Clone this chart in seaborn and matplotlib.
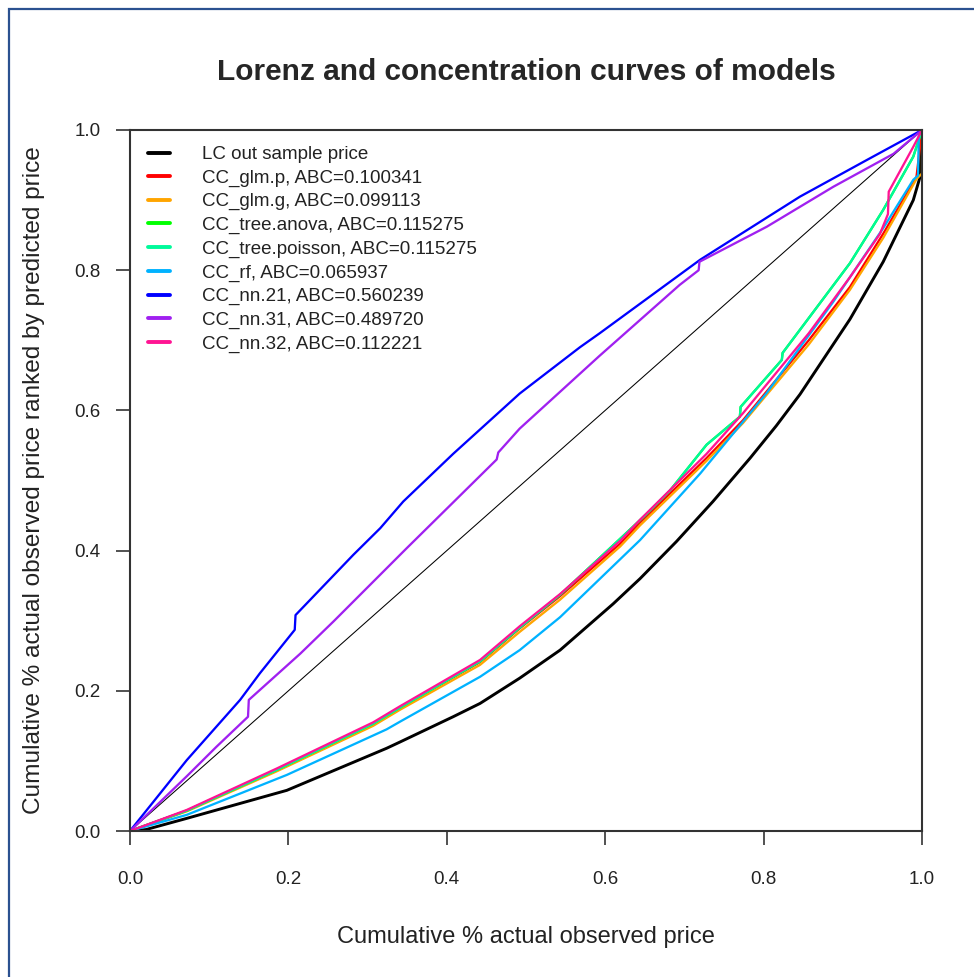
import numpy as np
import pandas as pd
import matplotlib
matplotlib.use('Agg')
import matplotlib.pyplot as plt
import seaborn as sns
from matplotlib.lines import Line2D
from matplotlib.patches import Rectangle

sns.set_theme(style='white')
plt.rcParams['font.family'] = ['Liberation Sans', 'DejaVu Sans']

# Lorenz curve of the out-of-sample price
lc_x = [0, 0.02, 0.0716, 0.198, 0.324, 0.341, 0.408, 0.442, 0.492, 0.543, 0.610, 0.644,
        0.690, 0.736, 0.783, 0.816, 0.846, 0.909, 0.951, 0.989, 0.997, 1.0]
lc_y = [0, 0.002, 0.018, 0.058, 0.118, 0.127, 0.163, 0.182, 0.218, 0.258, 0.324, 0.360,
        0.413, 0.470, 0.532, 0.578, 0.623, 0.730, 0.812, 0.900, 0.931, 1.0]

# concentration curves
glm_p_x = [0, 0.0716, 0.185, 0.307, 0.341, 0.442, 0.492, 0.543, 0.619, 0.644, 0.728,
           0.774, 0.857, 0.909, 0.951, 0.993, 1.0]
glm_p_y = [0, 0.029, 0.087, 0.153, 0.176, 0.241, 0.289, 0.335, 0.410, 0.440, 0.532,
           0.586, 0.700, 0.776, 0.852, 0.933, 1.0]

glm_g_x = [0, 0.0716, 0.185, 0.307, 0.341, 0.442, 0.492, 0.543, 0.619, 0.644, 0.728,
           0.774, 0.857, 0.909, 0.951, 0.993, 1.0, 1.0, 1.0]
glm_g_y = [0, 0.028, 0.085, 0.150, 0.173, 0.237, 0.284, 0.330, 0.406, 0.436, 0.528,
           0.582, 0.694, 0.772, 0.846, 0.930, 0.938, 0.976, 1.0]

tree_anova_x = [0, 0.0716, 0.185, 0.307, 0.341, 0.442, 0.492, 0.543, 0.619, 0.652, 0.682,
                0.728, 0.770, 0.771, 0.823, 0.824, 0.909, 0.951, 0.989, 1.0]
tree_anova_y = [0, 0.029, 0.087, 0.153, 0.176, 0.242, 0.290, 0.337, 0.417, 0.452, 0.486,
                0.551, 0.591, 0.605, 0.672, 0.682, 0.810, 0.886, 0.962, 1.0]

tree_poisson_x = [0, 0.0716, 0.185, 0.307, 0.341, 0.442, 0.492, 0.543, 0.619, 0.652, 0.682,
                  0.728, 0.770, 0.771, 0.823, 0.824, 0.909, 0.951, 0.989, 1.0]
tree_poisson_y = [0, 0.029, 0.087, 0.153, 0.176, 0.242, 0.290, 0.337, 0.417, 0.452, 0.486,
                  0.551, 0.591, 0.605, 0.672, 0.682, 0.810, 0.886, 0.962, 1.0]

rf_x = [0, 0.0716, 0.198, 0.324, 0.341, 0.442, 0.492, 0.543, 0.644, 0.720, 0.804,
        0.888, 0.951, 0.989, 0.995, 0.996, 1.0]
rf_y = [0, 0.023, 0.080, 0.145, 0.156, 0.220, 0.258, 0.305, 0.415, 0.510, 0.625,
        0.755, 0.860, 0.929, 0.935, 0.996, 1.0]

nn21_x = [0, 0.0716, 0.139, 0.164, 0.208, 0.209, 0.282, 0.316, 0.345, 0.408, 0.492,
          0.568, 0.593, 0.720, 0.846, 0.930, 1.0]
nn21_y = [0, 0.101, 0.187, 0.225, 0.287, 0.308, 0.394, 0.432, 0.470, 0.538, 0.624,
          0.690, 0.710, 0.815, 0.905, 0.957, 1.0]

nn31_x = [0, 0.0716, 0.109, 0.149, 0.150, 0.215, 0.257, 0.349, 0.463, 0.465, 0.492,
          0.593, 0.694, 0.718, 0.719, 0.804, 0.888, 0.964, 1.0]
nn31_y = [0, 0.078, 0.120, 0.163, 0.187, 0.253, 0.299, 0.403, 0.530, 0.540, 0.574,
          0.678, 0.779, 0.800, 0.812, 0.862, 0.919, 0.966, 1.0]

nn32_x = [0, 0.0716, 0.185, 0.307, 0.341, 0.442, 0.492, 0.543, 0.619, 0.644, 0.728,
          0.774, 0.857, 0.909, 0.947, 0.957, 0.958, 0.989, 1.0]
nn32_y = [0, 0.030, 0.089, 0.155, 0.178, 0.244, 0.292, 0.338, 0.414, 0.444, 0.538,
          0.596, 0.710, 0.790, 0.852, 0.880, 0.912, 0.976, 1.0]

diag = [0, 1]

labels = ['LC out sample price',
          'CC_glm.p, ABC=0.100341',
          'CC_glm.g, ABC=0.099113',
          'CC_tree.anova, ABC=0.115275',
          'CC_tree.poisson, ABC=0.115275',
          'CC_rf, ABC=0.065937',
          'CC_nn.21, ABC=0.560239',
          'CC_nn.31, ABC=0.489720',
          'CC_nn.32, ABC=0.112221']
colors = ['black', '#FF0000', '#FFA500', '#00FF00', '#00FA9A', '#00B2FF',
          '#0000FF', '#A020F0', '#FF1493']
curves = [(lc_x, lc_y), (glm_p_x, glm_p_y), (glm_g_x, glm_g_y),
          (tree_anova_x, tree_anova_y), (tree_poisson_x, tree_poisson_y),
          (rf_x, rf_y), (nn21_x, nn21_y), (nn31_x, nn31_y), (nn32_x, nn32_y)]

fig = plt.figure(figsize=(9.74, 9.77), dpi=100)
ax = fig.add_axes([130 / 974, 1 - 831 / 977, 792 / 974, 701 / 977])

# equality line
sns.lineplot(x=diag, y=diag, ax=ax, color='black', lw=0.75)

for (cx, cy), col in zip(curves, colors):
    lw = 2.1 if col == 'black' else 1.65
    sns.lineplot(x=cx, y=cy, ax=ax, color=col, lw=lw, sort=False, estimator=None)

ax.set_xlim(0, 1)
ax.set_ylim(0, 1)
ticks = np.arange(0, 1.01, 0.2)
ax.set_xticks(ticks)
ax.set_yticks(ticks)
ax.set_xticklabels(['%.1f' % t for t in ticks])
ax.set_yticklabels(['%.1f' % t for t in ticks])
ax.tick_params(bottom=True, left=True, direction='out', length=10, width=1.2,
               color='#333333', labelsize=13.5, labelcolor='#222222')
ax.tick_params(axis='x', pad=19)
ax.tick_params(axis='y', pad=11)
for s in ax.spines.values():
    s.set_color('#333333')
    s.set_linewidth(1.5)

ax.set_xlabel('Cumulative % actual observed price', fontsize=17, color='#222222')
ax.set_ylabel('Cumulative % actual observed price ranked by predicted price',
              fontsize=17.6, color='#222222')
ax.xaxis.set_label_coords(0.5, (831 - 937) / 701)
ax.xaxis.label.set_va('center')
ax.yaxis.set_label_coords((34 - 130) / 792, 0.5)
ax.yaxis.label.set_va('center')

fig.text(526 / 974, 1 - 72 / 977, 'Lorenz and concentration curves of models',
         fontsize=21.5, fontweight='bold', ha='center', va='center')

handles = [Line2D([0], [0], color=c, lw=2.8) for c in colors]
ax.legend(handles, labels, loc='upper left', frameon=False, fontsize=13.5,
          bbox_to_anchor=(148 / 974, 1 - 146 / 977), bbox_transform=fig.transFigure,
          borderaxespad=0, borderpad=0, handlelength=1.15, handletextpad=1.75,
          labelspacing=0.34, labelcolor='#222222')

# outer frame of the screenshot
fig.patches.append(Rectangle((9 / 974, -0.1), 2, 1.1 - 9 / 977, transform=fig.transFigure,
                             fill=False, edgecolor='#2B5190', lw=1.6))

fig.savefig('out.png', dpi=100)
